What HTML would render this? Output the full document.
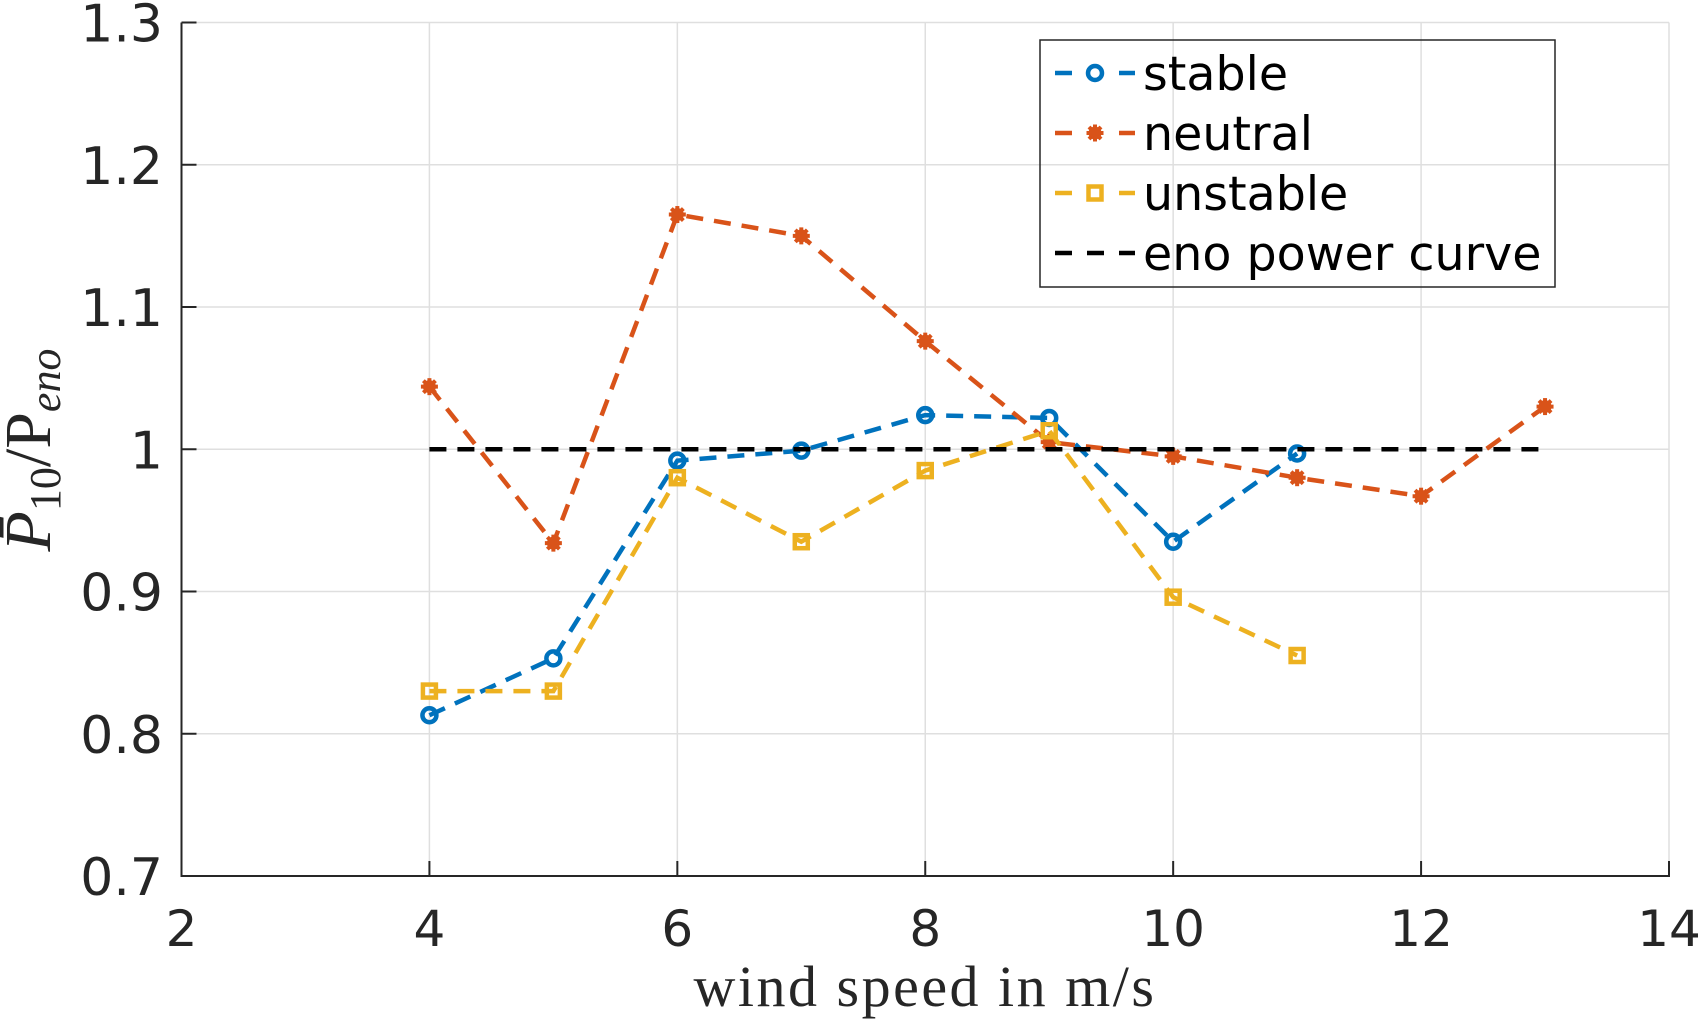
<!DOCTYPE html>
<html><head><meta charset="utf-8"><style>
html,body{margin:0;padding:0;background:#fff;}
svg{display:block;}
text{font-family:"DejaVu Sans","Liberation Sans",sans-serif;fill:#262626;}
.serif{font-family:"Liberation Serif","DejaVu Serif",serif;fill:#262626;}
</style></head><body>
<svg id="chart" width="1700" height="1024" viewBox="0 0 1700 1024">
<g id="grid"></g>
<g id="plot"></g>
<g id="axes"></g>
<text class="serif" x="925" y="1006" font-size="58" letter-spacing="2.5" text-anchor="middle">wind speed in m/s</text>
<text class="serif" transform="translate(50,450) rotate(-90)" font-size="66" text-anchor="middle"><tspan font-style="italic">P̄</tspan><tspan font-size="44" dy="10">10</tspan><tspan dy="-10">/P</tspan><tspan font-size="44" dy="10" font-style="italic">eno</tspan></text>
<g id="legend"></g>
</svg>
<script>
const xTicks=[2,4,6,8,10,12,14];
const yTicks=[0.7,0.8,0.9,1.0,1.1,1.2,1.3];
const yTickLabels=["0.7","0.8","0.9","1","1.1","1.2","1.3"];
const stableX=[4,5,6,7,8,9,10,11];
const stableY=[0.813,0.853,0.992,0.999,1.024,1.022,0.935,0.997];
const neutralX=[4,5,6,7,8,9,10,11,12,13];
const neutralY=[1.044,0.934,1.165,1.150,1.076,1.005,0.995,0.980,0.967,1.030];
const unstableX=[4,5,6,7,8,9,10,11];
const unstableY=[0.830,0.830,0.980,0.935,0.985,1.013,0.896,0.855];
const enoX=[4,13];
const enoY=[1,1];

const L=181.5,R=1669,T=22.5,B=876;
const sx=v=>L+(v-2)/12*(R-L);
const sy=v=>B-(v-0.7)/0.6*(B-T);
const NS="http://www.w3.org/2000/svg";
function mk(tag,attrs,parent){const e=document.createElementNS(NS,tag);for(const k in attrs)e.setAttribute(k,attrs[k]);parent.appendChild(e);return e;}
const grid=document.getElementById('grid'),axes=document.getElementById('axes'),plot=document.getElementById('plot'),leg=document.getElementById('legend');

xTicks.forEach(t=>{
  const g=mk('line',{x1:sx(t),x2:sx(t),y1:T,y2:B,stroke:'#dfdfdf','stroke-width':1.5},grid);
  
  
  const tk=mk('line',{x1:sx(t),x2:sx(t),y1:B,y2:B-15,stroke:'#262626','stroke-width':2},axes);
  
  
  const tx=mk('text',{x:sx(t),y:946,'font-size':50,'text-anchor':'middle'},axes);
  tx.textContent=t;
  
  
});
yTicks.forEach((t,i)=>{
  const g=mk('line',{x1:L,x2:R,y1:sy(t),y2:sy(t),stroke:'#dfdfdf','stroke-width':1.5},grid);
  
  
  const tk=mk('line',{x1:L,x2:L+15,y1:sy(t),y2:sy(t),stroke:'#262626','stroke-width':2},axes);
  
  
  const tx=mk('text',{x:163,y:sy(t)+19,'font-size':52,'text-anchor':'end'},axes);
  tx.textContent=yTickLabels[i];
  
  
});
const ax=mk('path',{d:`M${L},${T}V${B}H${R}V${B-15}`,fill:'none',stroke:'#262626','stroke-width':2},axes);



function marker(kind,x,y,color,parent){
  let m;
  if(kind==='o'){m=mk('circle',{cx:x,cy:y,r:7,fill:'none',stroke:color,'stroke-width':4.5},parent);}
  else if(kind==='s'){m=mk('rect',{x:x-6.5,y:y-6.5,width:13,height:13,fill:'none',stroke:color,'stroke-width':4.5},parent);}
  else {m=mk('g',{},parent);
    [0,45,90,135].forEach(a=>mk('line',{x1:x-8.5,x2:x+8.5,y1:y,y2:y,stroke:color,'stroke-width':4,transform:`rotate(${a} ${x} ${y})`},m));
    mk('circle',{cx:x,cy:y,r:6.5,fill:color},m);}
  return m;
}
const series=[
  {name:'stable',xs:stableX,ys:stableY,color:'#0072bd',m:'o'},
  {name:'neutral',xs:neutralX,ys:neutralY,color:'#d95319',m:'*'},
  {name:'unstable',xs:unstableX,ys:unstableY,color:'#edb120',m:'s'},
  {name:'eno power curve',xs:enoX,ys:enoY,color:'#000000',m:null}
];
series.forEach((s,si)=>{
  const g=mk('g',{},plot);
  
  
  const p=mk('polyline',{points:s.xs.map((x,i)=>sx(x)+','+sy(s.ys[i])).join(' '),fill:'none',stroke:s.color,'stroke-width':4.5,'stroke-dasharray':'17,11'},g);
  
  
  if(s.m){s.xs.forEach((x,i)=>{
    const m=marker(s.m,sx(x),sy(s.ys[i]),s.color,g);
    
    
  });}
  const ly=[73,133,193,253][si];
  const le=mk('g',{},leg);
  
  
  mk('line',{x1:1055,x2:1135,y1:ly,y2:ly,stroke:s.color,'stroke-width':4.5,'stroke-dasharray':'17,15'},le);
  if(s.m){mk('rect',{x:1083,y:ly-10,width:24,height:20,fill:'#fff'},le);marker(s.m,1095,ly,s.color,le);}
  const t=mk('text',{x:1143,y:ly+17,'font-size':47.5,fill:'#000'},le);
  t.style.fill='#000';
  t.textContent=s.name;
});
const box=mk('rect',{x:1040,y:40,width:515,height:247,fill:'none',stroke:'#262626','stroke-width':1.5},leg);


</script>
</body></html>
